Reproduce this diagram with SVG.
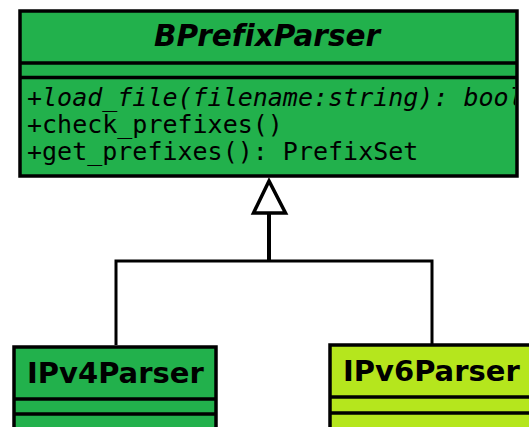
<svg xmlns="http://www.w3.org/2000/svg" width="529" height="427" viewBox="0 0 529 427">
  <style>
    .box { stroke: #000; stroke-width: 3.5; }
    .green { fill: #22b14c; }
    .lime { fill: #b5e61d; }
    .div { stroke: #000; stroke-width: 3.5; }
    .title { font-family: "DejaVu Sans", sans-serif; font-weight: bold; fill: #000; font-variant-ligatures: none; }
    .mono { font-family: "DejaVu Sans Mono", monospace; font-size: 25px; fill: #000; }
    .conn { fill: none; stroke: #000; stroke-width: 3; }
  </style>
  <defs>
    <clipPath id="clipTop">
      <rect x="22" y="79" width="493" height="95"/>
    </clipPath>
  </defs>
  <rect width="529" height="427" fill="#fff"/>

  <g id="connectors">
    <polyline class="conn" points="116,345 116,261 432,261 432,345"/>
    <line x1="269" y1="261" x2="269" y2="213" stroke="#000" stroke-width="4"/>
    <polygon points="269,181 253.5,213 285.5,213" fill="#fff" stroke="#000" stroke-width="3.5" stroke-linejoin="miter"/>
  </g>

  <g id="BPrefixParser">
    <rect class="box green" x="20" y="11" width="497" height="165"/>
    <line class="div" x1="20" y1="63" x2="517" y2="63"/>
    <line class="div" x1="20" y1="77.5" x2="517" y2="77.5"/>
    <text class="title" x="267" y="46" font-size="29.5" font-style="italic" text-anchor="middle">BPrefixParser</text>
    <g clip-path="url(#clipTop)">
      <text class="mono" x="27" y="106" font-style="italic">+load_file(filename:string): bool</text>
      <text class="mono" x="27" y="133">+check_prefixes()</text>
      <text class="mono" x="27" y="160">+get_prefixes(): PrefixSet</text>
    </g>
  </g>

  <g id="IPv4Parser">
    <rect class="box green" x="14" y="347" width="202" height="100"/>
    <line class="div" x1="14" y1="399" x2="216" y2="399" stroke-width="3"/>
    <line class="div" x1="14" y1="414" x2="216" y2="414" stroke-width="3"/>
    <text class="title" x="27" y="383" font-size="29">IPv4Parser</text>
  </g>

  <g id="IPv6Parser">
    <rect class="box lime" x="330" y="345" width="220" height="100"/>
    <line class="div" x1="330" y1="397" x2="550" y2="397" stroke-width="3"/>
    <line class="div" x1="330" y1="413" x2="550" y2="413" stroke-width="3"/>
    <text class="title" x="343" y="381" font-size="29">IPv6Parser</text>
  </g>
</svg>
